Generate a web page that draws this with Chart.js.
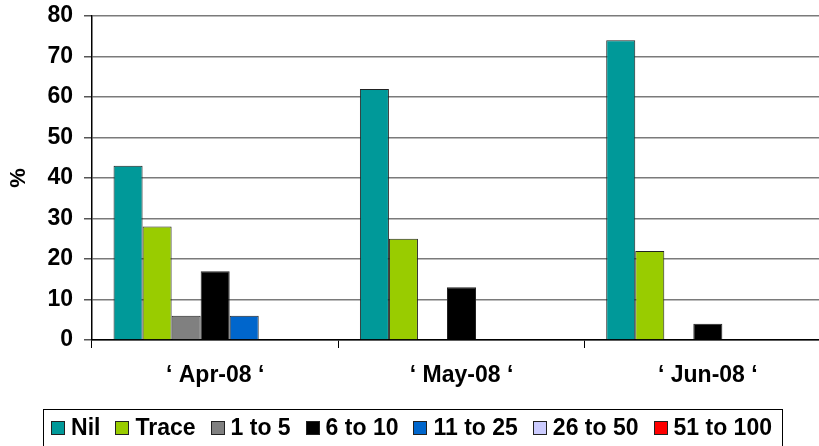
<!DOCTYPE html>
<html>
<head>
<meta charset="utf-8">
<script src="https://cdn.jsdelivr.net/npm/chart.js@4/dist/chart.umd.min.js"></script>
<style>
  html, body { margin: 0; padding: 0; background: #fff; overflow: hidden; }
  #wrap { width: 841px; height: 446px; position: relative; }
</style>
</head>
<body>
<div id="wrap"><canvas id="c" width="841" height="446"></canvas></div>
<script>
// Monthly share of readings per class (%)
const months = ['\u2018 Apr-08 \u2018', '\u2018 May-08 \u2018', '\u2018 Jun-08 \u2018'];
const nil       = [43, 62, 74];
const trace     = [28, 25, 22];
const oneTo5    = [6, 0, 0];
const sixTo10   = [17, 13, 4];
const elevenTo25 = [6, 0, 0];
const twentySixTo50 = [0, 0, 0];
const fiftyOneTo100 = [0, 0, 0];
const yTicks = [0, 10, 20, 30, 40, 50, 60, 70, 80];

const seriesNames  = ['Nil', 'Trace', '1 to 5', '6 to 10', '11 to 25', '26 to 50', '51 to 100'];
const seriesValues = [nil, trace, oneTo5, sixTo10, elevenTo25, twentySixTo50, fiftyOneTo100];
const seriesColors = ['#009999', '#99CC00', '#808080', '#000000', '#0066CC', '#CCCCFF', '#FF0000'];

const FONT = '"Liberation Sans", Arial, Helvetica, sans-serif';

// Boxed legend drawn along the bottom of the canvas
const boxedLegend = {
  id: 'boxedLegend',
  afterDraw(chart) {
    const ctx = chart.ctx;
    ctx.save();
    ctx.font = 'bold 23px ' + FONT;
    const sq = 14, sqGap = 6, itemGap = 15, padL = 8, padR = 10;
    const widths = seriesNames.map(n => ctx.measureText(n).width);
    let total = padL + padR;
    widths.forEach((w, i) => { total += sq + sqGap + w + (i ? itemGap : 0); });
    const cx = 412.5, top = 409, h = 37;
    const left = cx - total / 2;
    ctx.strokeStyle = '#000';
    ctx.lineWidth = 1;
    ctx.strokeRect(Math.round(left) + 0.5, top + 0.5, Math.round(total), h);
    const midY = top + h / 2 + 0.5;
    let x = left + padL;
    ctx.textBaseline = 'middle';
    ctx.textAlign = 'left';
    seriesNames.forEach((n, i) => {
      ctx.fillStyle = seriesColors[i];
      ctx.fillRect(Math.round(x), Math.round(midY - sq / 2), sq, sq);
      ctx.strokeStyle = '#222';
      ctx.strokeRect(Math.round(x) + 0.5, Math.round(midY - sq / 2) + 0.5, sq - 1, sq - 1);
      x += sq + sqGap;
      ctx.fillStyle = '#000';
      ctx.fillText(n, x, midY + 1);
      x += widths[i] + itemGap;
    });
    ctx.restore();
  }
};

new Chart(document.getElementById('c'), {
  type: 'bar',
  data: {
    labels: months,
    datasets: seriesNames.map((name, i) => ({
      label: name,
      data: seriesValues[i],
      backgroundColor: seriesColors[i],
      borderColor: '#222',
      borderWidth: 1,
      borderSkipped: 'bottom',
      categoryPercentage: 0.825,
      barPercentage: 1.0
    }))
  },
  options: {
    responsive: false,
    animation: false,
    layout: { padding: { top: 16, right: 10, bottom: 46, left: 0 } },
    plugins: {
      legend: { display: false },
      tooltip: { enabled: false }
    },
    scales: {
      x: {
        offset: true,
        grid: { offset: true, drawOnChartArea: false, drawTicks: true, tickLength: 8, color: '#000', lineWidth: 1 },
        border: { color: '#000', width: 1.5 },
        ticks: { color: '#000', font: { family: FONT, size: 23, weight: 'bold' }, padding: 14, maxRotation: 0 },
        afterFit(scale) { scale.height = 60; scale.paddingLeft = 0; scale.paddingRight = 0; }
      },
      y: {
        min: 0, max: 80,
        afterBuildTicks(scale) { scale.ticks = yTicks.map(v => ({ value: v })); },
        grid: { color: '#7a7a7a', lineWidth: 1.5, tickLength: 8, tickColor: '#555' },
        border: { color: '#000', width: 1.5 },
        ticks: { color: '#000', font: { family: FONT, size: 23, weight: 'bold' }, padding: 11 },
        title: { display: true, text: '%', color: '#000', font: { family: FONT, size: 22, weight: 'bold' }, padding: { top: 6, bottom: 0 } },
        afterFit(scale) { scale.width = 92; scale.paddingTop = 0; scale.paddingBottom = 0; }
      }
    }
  },
  plugins: [boxedLegend]
});
</script>
</body>
</html>
